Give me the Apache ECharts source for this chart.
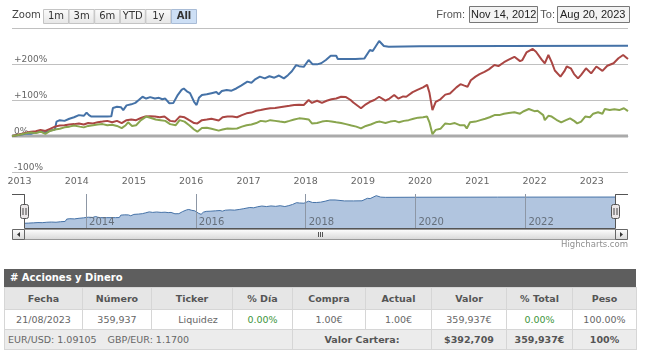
<!DOCTYPE html>
<html><head><meta charset="utf-8">
<script src="https://cdn.jsdelivr.net/npm/echarts@6/dist/echarts.min.js"></script>
<style>
html,body{margin:0;padding:0;background:#fff;width:650px;height:354px;overflow:hidden;}
#chart{position:absolute;left:0;top:0;width:650px;height:262px;}
#tbl{position:absolute;left:4px;top:269px;width:632px;font-family:"DejaVu Sans",Verdana,sans-serif;}
.title{background:#5e5e5e;color:#fff;font-weight:bold;font-size:10px;height:18px;line-height:18px;padding-left:6px;}
table{border-collapse:collapse;table-layout:fixed;width:632px;font-size:9.5px;}
td,th{border:1px solid #d6d6d6;text-align:center;padding:0;overflow:hidden;white-space:nowrap;}
th{background:#e6e6e6;color:#555;height:21px;font-weight:bold;}
tr.data td{background:#fff;color:#666;height:19px;}
tr.foot td{background:#ececec;color:#666;height:19px;}
tr.foot td.b{font-weight:bold;color:#555;}
.green{color:#3c963c !important;}
</style></head>
<body>
<div id="chart"></div>
<div id="tbl"></div>
<script>
// ---- data ----
const startDate = '2012-11-14';
const endDate = '2023-08-20';
const zoomButtons = ['1m','3m','6m','YTD','1y','All'];
const carteraData = [
['2012-11-14',0],['2012-12-15',2],['2013-01-15',4],['2013-02-15',7],['2013-03-15',6],['2013-04-15',10],['2013-05-15',12],['2013-06-15',10],['2013-07-15',15],['2013-08-15',18],['2013-08-25',40],['2013-09-15',44],['2013-10-15',42],['2013-11-15',48],['2013-12-15',52],['2014-01-15',58],['2014-02-15',56],['2014-03-05',65],['2014-03-20',58],['2014-04-05',54],['2014-05-15',54],['2014-07-15',54],['2014-08-10',55],['2014-08-20',78],['2014-09-15',81],['2014-10-10',80],['2014-10-25',72],['2014-11-15',85],['2014-12-15',88],['2015-01-10',92],['2015-02-01',100],['2015-02-25',109],['2015-03-20',104],['2015-04-15',108],['2015-05-15',104],['2015-06-10',106],['2015-07-01',102],['2015-07-20',104],['2015-08-15',91],['2015-09-10',92],['2015-10-05',112],['2015-11-01',128],['2015-11-15',132],['2015-12-05',124],['2015-12-25',119],['2016-01-20',95],['2016-02-05',86],['2016-02-20',106],['2016-03-10',114],['2016-04-10',116],['2016-05-10',119],['2016-06-10',122],['2016-06-25',116],['2016-07-15',125],['2016-08-15',128],['2016-09-15',126],['2016-10-15',132],['2016-11-15',140],['2016-12-25',151],['2017-01-20',148],['2017-02-15',158],['2017-03-15',165],['2017-04-15',160],['2017-05-15',166],['2017-06-15',162],['2017-07-15',168],['2017-08-15',160],['2017-09-10',169],['2017-10-05',180],['2017-11-01',197],['2017-11-20',194],['2017-12-20',192],['2018-01-20',211],['2018-02-15',199],['2018-03-15',199],['2018-04-10',202],['2018-05-10',211],['2018-06-10',223],['2018-07-15',223],['2018-07-25',214],['2018-09-15',214],['2018-11-15',214],['2019-01-10',215],['2019-02-15',239],['2019-03-05',236],['2019-04-15',264],['2019-05-15',250],['2019-06-15',248],['2019-12-31',249],['2021-06-30',250],['2023-08-20',251]
];
const indiceAData = [
['2012-11-14',0],['2012-12-15',3],['2013-01-15',6],['2013-02-15',10],['2013-03-15',12],['2013-04-15',13],['2013-05-15',17],['2013-06-15',14],['2013-07-15',20],['2013-08-15',26],['2013-09-15',29],['2013-10-15',30],['2013-11-15',32],['2013-12-15',33],['2014-01-15',35],['2014-02-15',32],['2014-03-15',36],['2014-04-15',35],['2014-05-15',38],['2014-06-15',40],['2014-07-15',42],['2014-08-15',38],['2014-09-15',42],['2014-10-15',36],['2014-11-15',44],['2014-12-15',46],['2015-01-15',44],['2015-02-15',50],['2015-03-15',54],['2015-04-15',55],['2015-05-15',54],['2015-06-15',52],['2015-07-15',54],['2015-08-20',42],['2015-09-20',40],['2015-10-20',54],['2015-11-20',52],['2015-12-20',44],['2016-01-20',36],['2016-02-10',35],['2016-03-10',44],['2016-04-10',46],['2016-05-10',48],['2016-06-25',43],['2016-07-20',52],['2016-08-20',54],['2016-09-20',54],['2016-10-20',52],['2016-11-20',58],['2016-12-20',63],['2017-01-20',65],['2017-02-20',70],['2017-03-20',72],['2017-04-20',75],['2017-05-20',77],['2017-06-20',78],['2017-07-20',80],['2017-08-20',82],['2017-09-20',84],['2017-10-20',86],['2017-11-20',87],['2017-12-20',86],['2018-01-20',100],['2018-02-10',92],['2018-03-15',98],['2018-04-15',92],['2018-05-15',98],['2018-06-15',102],['2018-07-15',104],['2018-08-15',109],['2018-09-15',108],['2018-10-15',100],['2018-11-01',93],['2018-12-20',77],['2019-01-20',88],['2019-02-15',95],['2019-03-15',100],['2019-04-15',109],['2019-05-25',98],['2019-06-20',104],['2019-07-20',114],['2019-08-15',104],['2019-09-15',110],['2019-10-05',109],['2019-11-15',122],['2019-12-15',128],['2020-01-20',135],['2020-02-15',142],['2020-03-01',120],['2020-03-20',72],['2020-04-10',95],['2020-05-10',102],['2020-06-10',115],['2020-07-10',118],['2020-08-20',135],['2020-09-15',144],['2020-10-10',140],['2020-10-30',137],['2020-11-20',155],['2020-12-20',165],['2021-01-15',172],['2021-02-15',178],['2021-03-15',185],['2021-04-20',197],['2021-05-15',194],['2021-06-20',205],['2021-07-20',212],['2021-08-25',220],['2021-09-30',208],['2021-10-15',211],['2021-11-10',232],['2021-12-20',242],['2022-01-10',234],['2022-02-15',212],['2022-03-07',202],['2022-03-30',225],['2022-04-20',205],['2022-05-10',182],['2022-06-15',165],['2022-07-10',180],['2022-07-25',193],['2022-08-20',188],['2022-09-10',172],['2022-10-05',160],['2022-10-25',170],['2022-11-25',188],['2022-12-28',174],['2023-01-30',193],['2023-03-10',181],['2023-04-10',195],['2023-05-20',202],['2023-06-20',216],['2023-07-20',225],['2023-08-20',214]
];
const indiceBData = [
['2012-11-14',0],['2012-12-15',2],['2013-01-15',5],['2013-02-15',8],['2013-03-15',10],['2013-04-15',8],['2013-05-15',12],['2013-06-15',6],['2013-07-15',14],['2013-08-15',18],['2013-09-15',20],['2013-10-15',24],['2013-11-15',26],['2013-12-15',29],['2014-01-20',26],['2014-02-15',24],['2014-03-15',28],['2014-04-15',30],['2014-05-15',32],['2014-06-15',33],['2014-07-15',30],['2014-08-15',31],['2014-09-15',28],['2014-10-15',22],['2014-11-10',30],['2014-11-25',38],['2014-12-20',28],['2015-01-15',30],['2015-02-15',44],['2015-03-20',54],['2015-04-20',50],['2015-05-20',46],['2015-06-20',44],['2015-07-20',42],['2015-08-20',33],['2015-09-25',30],['2015-10-20',44],['2015-11-20',40],['2015-12-20',30],['2016-01-20',18],['2016-02-10',12],['2016-03-10',22],['2016-04-10',23],['2016-05-10',20],['2016-06-25',15],['2016-07-20',18],['2016-08-20',21],['2016-09-20',20],['2016-10-20',21],['2016-11-20',26],['2016-12-20',30],['2017-01-20',32],['2017-02-20',36],['2017-03-20',42],['2017-04-20',40],['2017-05-20',44],['2017-06-20',42],['2017-07-20',40],['2017-08-20',38],['2017-09-20',42],['2017-10-20',46],['2017-11-20',49],['2017-12-20',48],['2018-01-20',46],['2018-02-10',35],['2018-03-15',36],['2018-04-15',40],['2018-05-15',42],['2018-06-15',40],['2018-07-15',38],['2018-08-15',36],['2018-09-15',33],['2018-10-20',29],['2018-11-20',26],['2018-12-20',21],['2019-01-20',28],['2019-02-20',32],['2019-03-25',38],['2019-04-20',40],['2019-05-25',36],['2019-06-25',40],['2019-07-25',42],['2019-08-20',38],['2019-09-20',42],['2019-10-20',44],['2019-11-20',48],['2019-12-20',51],['2020-01-20',52],['2020-02-15',54],['2020-03-01',38],['2020-03-20',5],['2020-04-10',17],['2020-05-10',20],['2020-06-10',35],['2020-07-10',33],['2020-08-10',36],['2020-09-10',30],['2020-10-10',30],['2020-10-25',21],['2020-11-15',38],['2020-12-20',40],['2021-01-20',44],['2021-02-20',48],['2021-03-20',52],['2021-04-20',58],['2021-05-20',58],['2021-06-20',62],['2021-07-20',64],['2021-08-25',66],['2021-09-30',62],['2021-10-20',68],['2021-11-25',75],['2021-12-31',69],['2022-01-20',70],['2022-02-25',58],['2022-03-07',44],['2022-03-30',56],['2022-04-20',54],['2022-05-20',45],['2022-06-20',38],['2022-07-20',44],['2022-08-15',49],['2022-09-10',42],['2022-09-30',35],['2022-10-25',40],['2022-11-20',54],['2022-12-20',52],['2023-01-10',62],['2023-02-10',66],['2023-03-10',62],['2023-03-25',75],['2023-04-25',72],['2023-05-25',74],['2023-06-25',72],['2023-07-25',77],['2023-08-20',69]
];
const tableTitle = '# Acciones y Dinero';
const tableHeaders = ['Fecha','Número','Ticker','% Día','Compra','Actual','Valor','% Total','Peso'];
const tableRow = ['21/08/2023','359,937','Liquidez','0.00%','1.00€','1.00€','359,937€','0.00%','100.00%'];
const footerFx = ['EUR/USD: 1.09105','GBP/EUR: 1.1700'];
const footerTotals = ['Valor Cartera:','$392,709','359,937€','100%'];
const colWidths = [78,69,81,60,73,66,75,66,64];

// ---- table ----
(function(){
  let h = '<div class="title">'+tableTitle+'</div><table><colgroup>';
  colWidths.forEach(w=>{h+='<col style="width:'+w+'px">';});
  h += '</colgroup><tr>';
  tableHeaders.forEach(t=>{h+='<th>'+t+'</th>';});
  h += '</tr><tr class="data">';
  tableRow.forEach((t,i)=>{
    const cls = (i===3||i===7)?' class="green"':'';
    const st = i===2?' style="padding-left:12px"':'';
    h+='<td'+cls+st+'>'+t+'</td>';
  });
  h += '</tr><tr class="foot"><td colspan="4" style="text-align:left;padding-left:3px">'+footerFx[0]+'<span style="display:inline-block;width:11px"></span>'+footerFx[1]+'</td>';
  h += '<td colspan="2" class="b">'+footerTotals[0]+'</td><td class="b">'+footerTotals[1]+'</td><td class="b">'+footerTotals[2]+'</td><td class="b">'+footerTotals[3]+'</td></tr></table>';
  document.getElementById('tbl').innerHTML = h;
})();

// ---- chart ----
const chart = echarts.init(document.getElementById('chart'), null, {renderer:'canvas'});
const G = echarts.graphic;
const graphics = [];
graphics.push({type:'text', left:12, top:10, style:{text:'Zoom', fontSize:10, fontFamily:'DejaVu Sans', fill:'#444'}});
zoomButtons.forEach((b,i)=>{
  const sel = b==='All';
  const x = 43 + i*25.6;
  graphics.push({type:'rect', shape:{x:x+0.5, y:9.5, width:25, height:14},
    style:{fill: sel ? '#cddff5' : new G.LinearGradient(0,0,0,1,[{offset:0,color:'#fbfbfb'},{offset:1,color:'#e6e6e6'}]),
      stroke: sel ? '#a9bcd6' : '#c4c4c4', lineWidth:1}});
  graphics.push({type:'text', x:x+13, y:16.5, style:{text:b, fontSize:10, fontFamily:'DejaVu Sans', fill:'#333', fontWeight: sel?'bold':'normal', align:'center', verticalAlign:'middle'}});
});
graphics.push({type:'text', x:465, y:15, style:{text:'From:', fontSize:11, fontFamily:'Liberation Sans', fill:'#555', align:'right', verticalAlign:'middle'}});
graphics.push({type:'rect', shape:{x:469.5,y:6.5,width:68,height:16}, style:{fill:'#f3f3f3', stroke:'#777', lineWidth:1}});
graphics.push({type:'text', x:471, y:15, style:{text:'Nov 14, 2012', fontSize:11, fontFamily:'Liberation Sans', fill:'#222', verticalAlign:'middle'}});
graphics.push({type:'text', x:555, y:15, style:{text:'To:', fontSize:11, fontFamily:'Liberation Sans', fill:'#555', align:'right', verticalAlign:'middle'}});
graphics.push({type:'rect', shape:{x:557.5,y:6.5,width:72,height:16}, style:{fill:'#f3f3f3', stroke:'#777', lineWidth:1}});
graphics.push({type:'text', x:560, y:15, style:{text:'Aug 20, 2023', fontSize:11, fontFamily:'Liberation Sans', fill:'#222', verticalAlign:'middle'}});
// navigator outline
graphics.push({type:'polyline', z:50, shape:{points:[[12,194.5],[24.5,194.5],[24.5,228.5],[615.5,228.5],[615.5,194.5],[628,194.5]]}, style:{stroke:'#555', lineWidth:1, fill:null}});
// handles
[24.5,615.5].forEach(hx=>{
  graphics.push({type:'rect', z:51, shape:{x:hx-4, y:204.5, width:8, height:14, r:2}, style:{fill:'#ebe7e8', stroke:'#555', lineWidth:1}});
  graphics.push({type:'line', z:52, shape:{x1:hx-1.5,y1:208,x2:hx-1.5,y2:215}, style:{stroke:'#444', lineWidth:1}});
  graphics.push({type:'line', z:52, shape:{x1:hx+1.5,y1:208,x2:hx+1.5,y2:215}, style:{stroke:'#444', lineWidth:1}});
});
// scrollbar
const sbGrad = ()=>new G.LinearGradient(0,0,0,1,[{offset:0,color:'#ffffff'},{offset:1,color:'#d6d6d6'}]);
graphics.push({type:'rect', z:50, shape:{x:24.5,y:229.5,width:591,height:10}, style:{fill:sbGrad(), stroke:'#999', lineWidth:1}});
graphics.push({type:'rect', z:50, shape:{x:12.5,y:229.5,width:12,height:10}, style:{fill:sbGrad(), stroke:'#666', lineWidth:1}});
graphics.push({type:'rect', z:50, shape:{x:615.5,y:229.5,width:12,height:10}, style:{fill:sbGrad(), stroke:'#666', lineWidth:1}});
graphics.push({type:'polygon', z:51, shape:{points:[[17,234.5],[20,232],[20,237]]}, style:{fill:'#333'}});
graphics.push({type:'polygon', z:51, shape:{points:[[623,234.5],[620,232],[620,237]]}, style:{fill:'#333'}});
[-2,0,2].forEach(d=>{
  graphics.push({type:'line', z:51, shape:{x1:320+d+0.5,y1:232,x2:320+d+0.5,y2:237}, style:{stroke:'#555', lineWidth:1}});
});
graphics.push({type:'text', x:628, y:245, style:{text:'Highcharts.com', fontSize:8.5, fontFamily:'DejaVu Sans', fill:'#909090', align:'right', verticalAlign:'middle'}});

const yLabelFmt = v => v===300 ? '' : (v>0 ? '+'+v+'%' : v+'%');

const option = {
  animation:false,
  textStyle:{fontFamily:'DejaVu Sans'},
  grid:[{left:12,right:22,top:28,height:144},{left:24,right:35,top:194,height:34}],
  xAxis:[
    {type:'time', gridIndex:0, min:startDate, max:endDate, splitNumber:11, minInterval:365*864e5,
     axisLine:{lineStyle:{color:'#C0D0E0'}}, axisTick:{show:false}, splitLine:{show:false},
     axisLabel:{formatter:'{yyyy}', color:'#666', fontSize:9.5, margin:5, showMinLabel:false, showMaxLabel:false}},
    {type:'time', gridIndex:1, z:5, min:startDate, max:endDate, splitNumber:5, minInterval:2*365*864e5,
     axisLine:{show:false}, axisTick:{show:false}, splitLine:{show:true, lineStyle:{color:'#8d97a5', width:1}},
     axisLabel:{inside:true, formatter:'{yyyy}', align:'left', padding:[0,0,0,3], color:'#66707c', fontSize:10, margin:1, showMinLabel:false, showMaxLabel:false}}
  ],
  yAxis:[
    {type:'value', gridIndex:0, min:-100, max:300, interval:100,
     axisLine:{show:false}, axisTick:{show:false},
     splitLine:{lineStyle:{color:'#C0C0C0', width:1}},
     axisLabel:{inside:true, formatter:yLabelFmt, color:'#666', fontSize:9, margin:2, verticalAlign:'bottom'}},
    {type:'value', gridIndex:1, min:-45, max:280, show:false, splitLine:{show:false}}
  ],
  series:[
    {name:'cero', type:'line', xAxisIndex:0, yAxisIndex:0, data:[[startDate,0],[endDate,0]], showSymbol:false, silent:true, z:1,
     lineStyle:{color:'#aaaaaa', width:3}},
    {name:'Cartera', type:'line', xAxisIndex:0, yAxisIndex:0, data:carteraData, showSymbol:false, z:3, lineStyle:{color:'#4572A7', width:2}, itemStyle:{color:'#4572A7'}},
    {name:'Índice A', type:'line', xAxisIndex:0, yAxisIndex:0, data:indiceAData, showSymbol:false, z:3, lineStyle:{color:'#AA4643', width:2}, itemStyle:{color:'#AA4643'}},
    {name:'Índice B', type:'line', xAxisIndex:0, yAxisIndex:0, data:indiceBData, showSymbol:false, z:3, lineStyle:{color:'#89A54E', width:2}, itemStyle:{color:'#89A54E'}},
    {name:'Navegador', type:'line', xAxisIndex:1, yAxisIndex:1, data:carteraData, showSymbol:false, z:2,
     lineStyle:{color:'#4572A7', width:1}, areaStyle:{color:'#b1c5df', opacity:1, origin:'start'}}
  ],
  graphic: graphics
};
chart.setOption(option);
</script>
</body></html>
